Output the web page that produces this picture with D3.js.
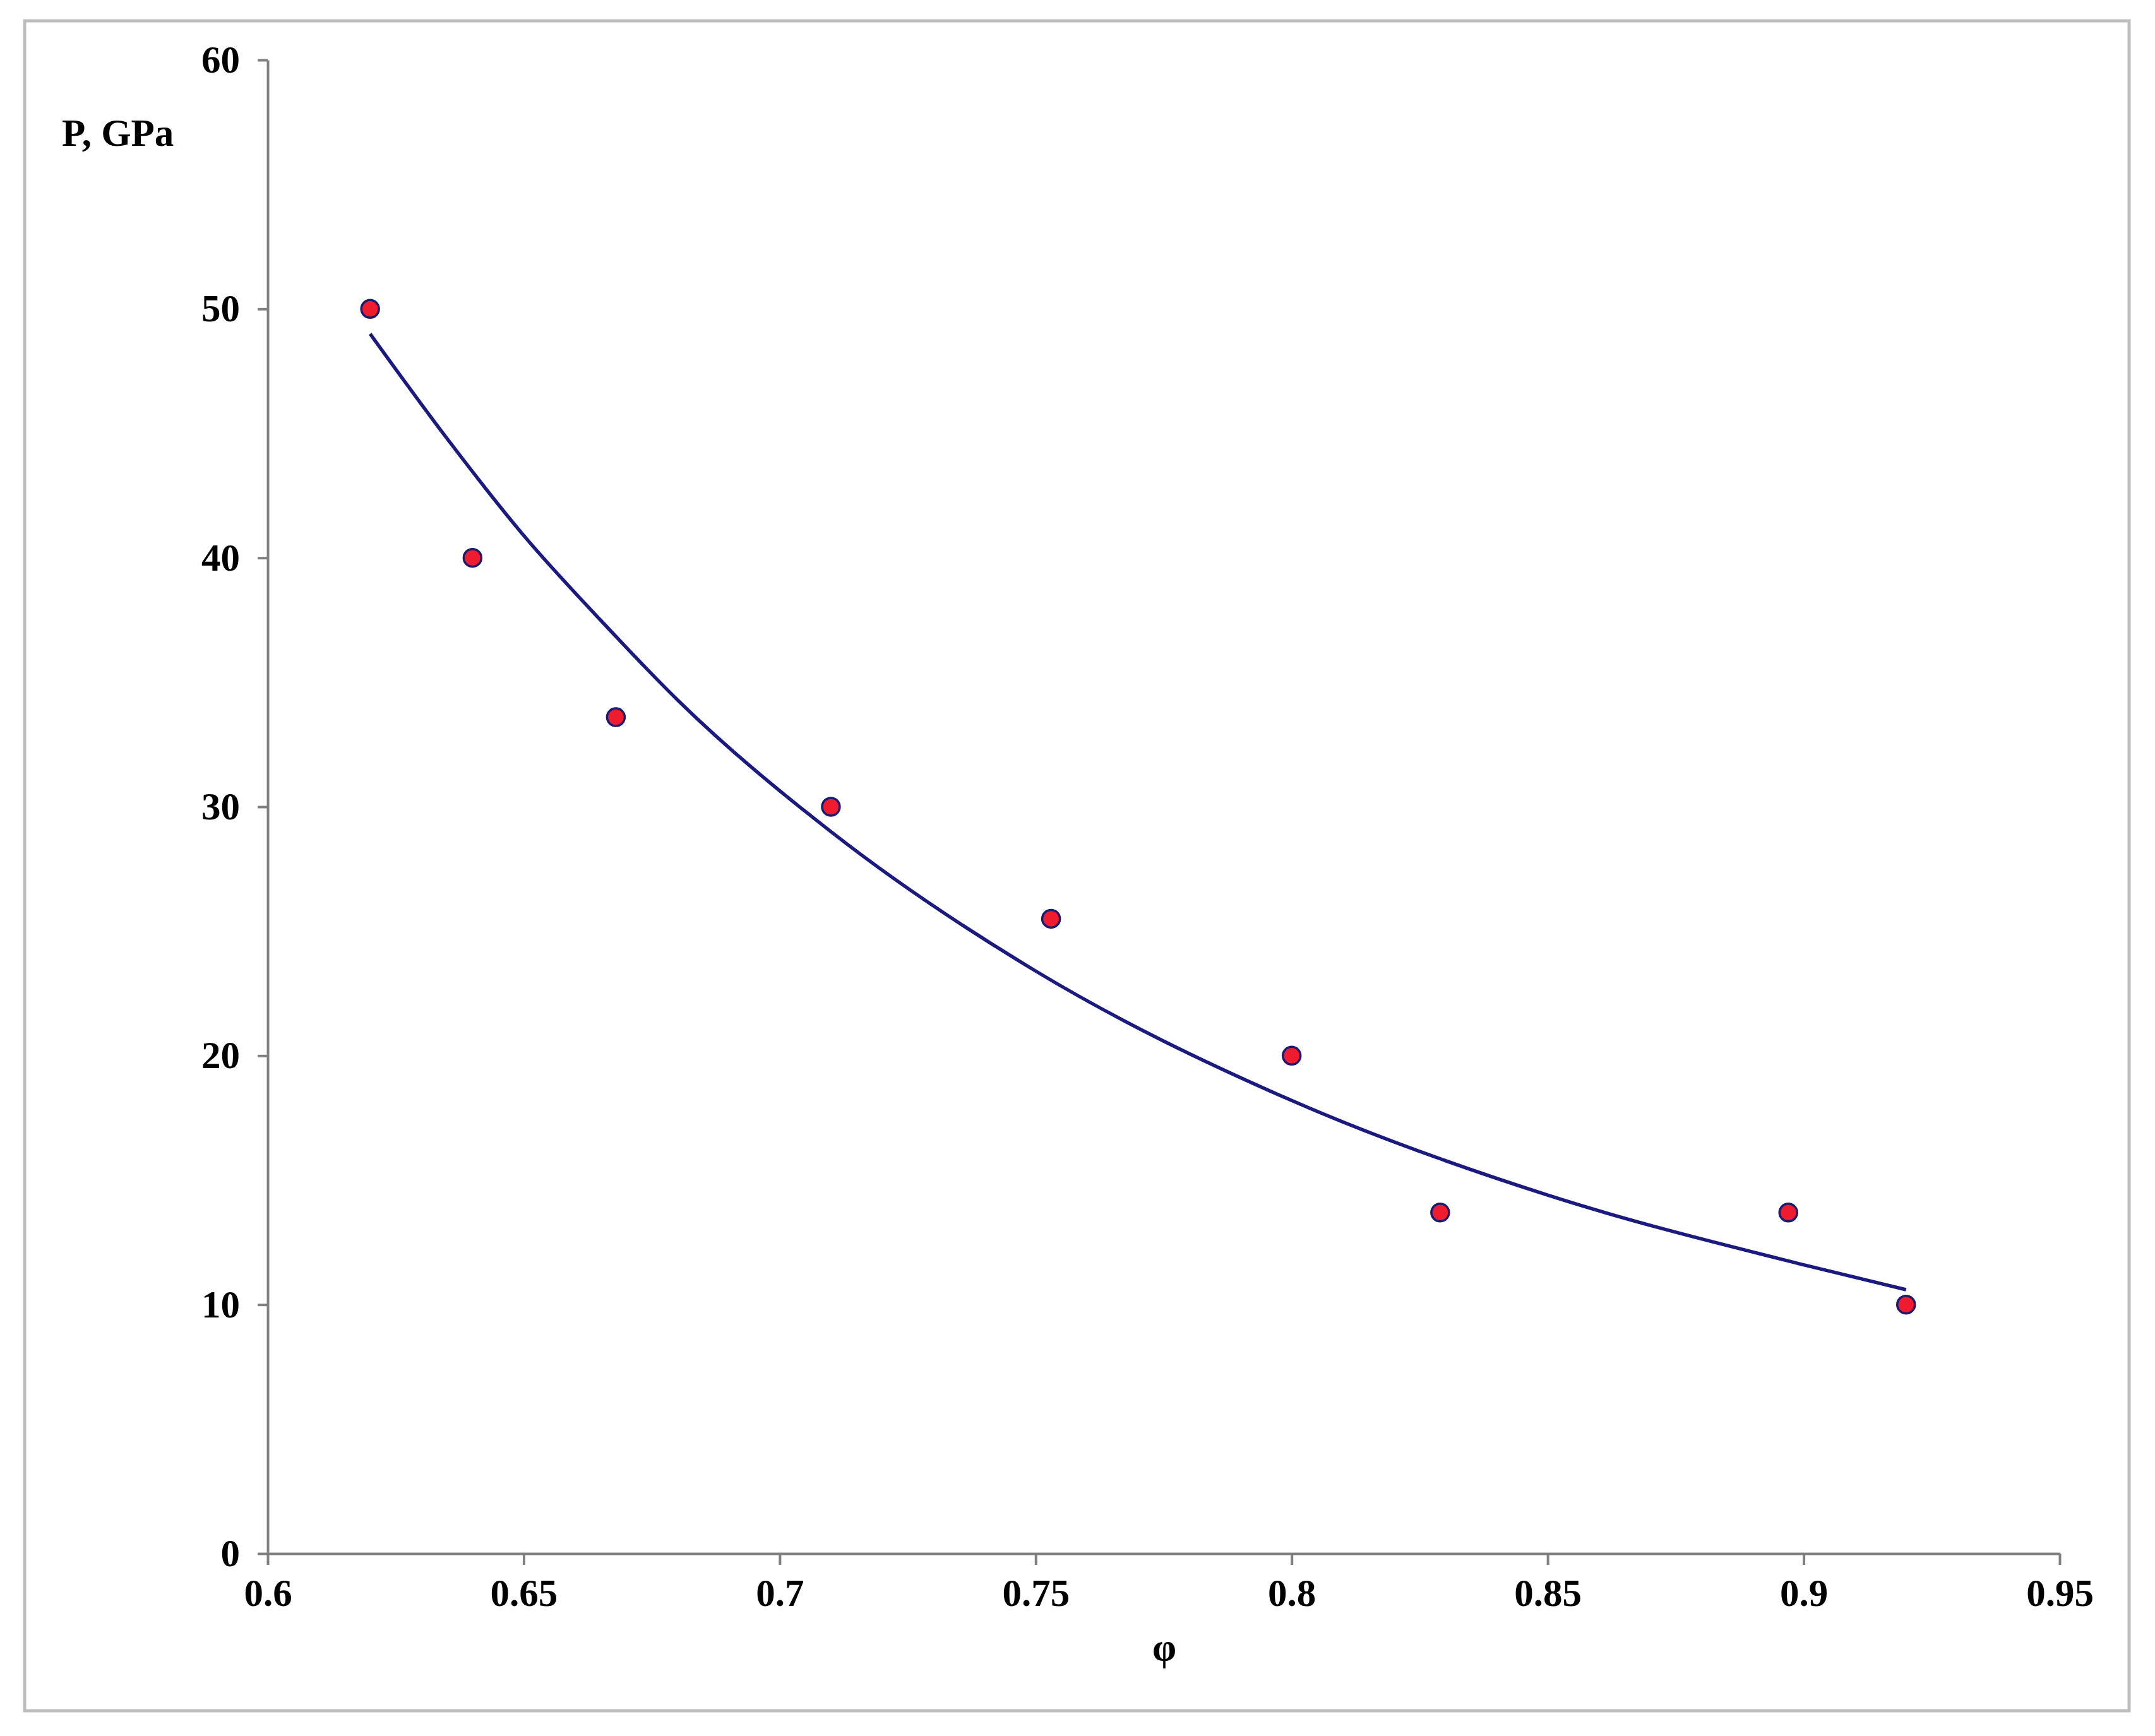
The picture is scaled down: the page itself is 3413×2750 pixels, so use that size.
<!DOCTYPE html>
<html><head><meta charset="utf-8">
<script src="https://cdn.jsdelivr.net/npm/d3@7"></script>
<style>body{margin:0;background:#fff}</style></head>
<body><svg id="c" width="3413" height="2750"></svg>
<script>
const phi = [0.620, 0.640, 0.668, 0.710, 0.753, 0.800, 0.829, 0.897, 0.920];
const pressure = [50, 40, 33.6, 30, 25.5, 20, 13.7, 13.7, 10];
const trendPhi = [0.62, 0.635, 0.65, 0.665, 0.68, 0.71, 0.75, 0.80, 0.85, 0.90, 0.92];
const trendP = [49.0, 44.8, 40.9, 37.5, 34.3, 29.0, 23.4, 18.2, 14.4, 11.6, 10.6];
const xTicks = [0.6, 0.65, 0.7, 0.75, 0.8, 0.85, 0.9, 0.95];
const yTicks = [0, 10, 20, 30, 40, 50, 60];

const svg = d3.select("#c");
const F = "'Liberation Serif','Times New Roman',serif";
svg.append("rect").attr("x",39).attr("y",33).attr("width",3333).attr("height",2677)
  .attr("fill","#fff").attr("stroke","#bdbdbd").attr("stroke-width",5);

const x = d3.scaleLinear().domain([0.6,0.95]).range([424,3262]);
const y = d3.scaleLinear().domain([0,60]).range([2461,95]);

const xa = svg.append("g").attr("transform","translate(0,2461)")
  .call(d3.axisBottom(x).tickValues(xTicks).tickFormat(d=>String(d)).tickSize(18).tickSizeOuter(0).tickPadding(22));
const ya = svg.append("g").attr("transform","translate(424,0)")
  .call(d3.axisLeft(y).tickValues(yTicks).tickFormat(d=>String(d)).tickSize(16).tickSizeOuter(0).tickPadding(28));
[xa,ya].forEach(a=>{
  a.selectAll("path,line").attr("stroke","#808080").attr("stroke-width",4);
  a.selectAll("text").attr("font-family",F).attr("font-weight","bold").attr("font-size",61).attr("fill","#000");
});
xa.selectAll("text").attr("dy","0.71em");

svg.append("path").datum(trendPhi.map((d,i)=>[d,trendP[i]]))
  .attr("d",d3.line().x(d=>x(d[0])).y(d=>y(d[1])).curve(d3.curveMonotoneX))
  .attr("fill","none").attr("stroke","#1a1a80").attr("stroke-width",5.5);

svg.selectAll("circle.pt").data(phi.map((d,i)=>[d,pressure[i]])).enter().append("circle")
  .attr("cx",d=>x(d[0])).attr("cy",d=>y(d[1])).attr("r",14)
  .attr("fill","#ee1c2e").attr("stroke","#1a1a70").attr("stroke-width",3.5);

svg.append("text").attr("x",98).attr("y",231).attr("font-family",F).attr("font-weight","bold")
  .attr("font-size",61).text("P, GPa");
svg.append("text").attr("x",1844).attr("y",2630).attr("text-anchor","middle").attr("font-family",F)
  .attr("font-weight","bold").attr("font-size",61).text("φ");
</script></body></html>
